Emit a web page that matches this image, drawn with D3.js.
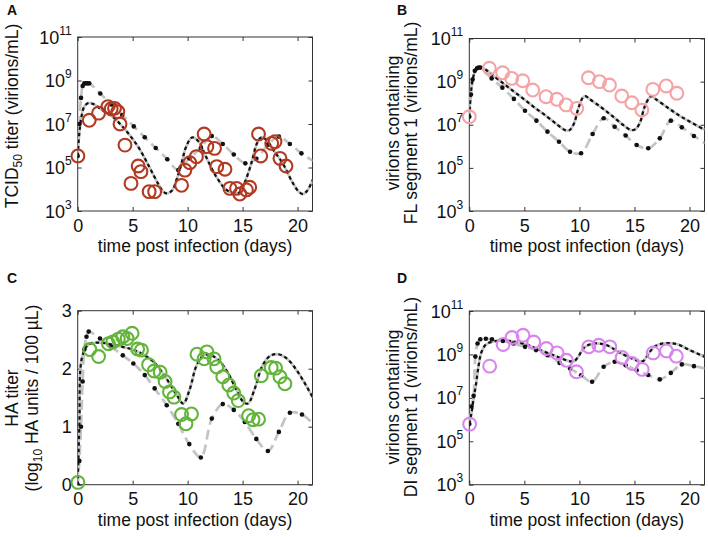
<!DOCTYPE html>
<html><head><meta charset="utf-8">
<script src="https://cdn.jsdelivr.net/npm/d3@7/dist/d3.min.js"></script>
<style>
body{margin:0;background:#fff;}
svg{display:block;font-family:"Liberation Sans",Arial,Helvetica,sans-serif;}
</style></head><body>
<svg id="c" width="708" height="537"></svg>
<script>
// ---------- tick labels ----------
const xTicks = [0, 5, 10, 15, 20];
const logTicks = [3, 5, 7, 9, 11];
const haTicks = [0, 1, 2, 3];

// ---------- Panel A: TCID50 titer (log10) ----------
const aObsT = [0.02,1.05,1.9,2.75,3.05,3.35,3.65,3.85,4.3,4.85,5.5,5.75,6.5,7.0,9.45,9.75,10.2,10.8,11.5,11.75,12.45,12.65,13.4,13.85,14.45,14.75,15.35,15.65,16.45,16.65,17.65,17.95,18.4,18.95];
const aObsV = [5.53,7.17,7.5,7.8,7.7,7.72,7.57,7.0,6.03,4.27,5.07,4.81,3.89,3.89,4.18,4.88,5.22,5.5,6.54,5.96,5.88,5.04,4.92,4.04,4.04,3.78,3.97,4.09,6.54,5.53,6.11,6.19,5.42,5.07];
const aFitT = [0,0.15,0.35,0.6,1.0,1.5,2.2,3.2,4.3,5.5,6.5,7.3,7.8,8.1,8.6,9.0,9.4,9.9,10.4,11.0,11.6,12.6,13.5,14.1,14.6,15.1,15.8,16.3,16.7,17.2,17.8,18.7,19.5,20.1,20.5,20.9,21.4];
const aFitV = [5.53,6.6,7.35,7.8,7.97,7.9,7.65,7.32,6.75,5.95,5.04,4.27,3.88,3.81,3.95,4.45,5.1,6.0,6.38,6.2,5.57,4.58,3.98,3.83,3.81,4.2,5.2,6.1,6.38,6.25,5.8,5.15,4.35,3.9,3.78,3.95,4.45];
const aDotT = [0,0.15,0.3,0.45,0.6,0.75,0.9,1.05,2.05,3.05,4.05,5.1,6.1,7.1,8.15,9.15,10.15,11.2,12.2,13.2,14.2,15.25,16.25,17.3,18.3,19.3,20.35];
const aDotV = [5.53,7.0,8.2,8.75,8.87,8.87,8.87,8.87,8.4,7.9,7.41,6.89,6.39,5.9,5.38,4.88,5.42,5.9,6.45,6.08,5.6,5.19,5.4,6.05,6.42,6.08,5.65];
const aEndT = 21.4, aEndV = 5.3;

// ---------- Panel B: FL segment 1 (log10) ----------
const bObsT = [0,1.82,3.03,3.85,4.85,5.76,6.97,7.95,8.79,9.76,10.82,11.82,12.73,13.85,14.76,15.67,16.67,17.88,18.85];
const bObsV = [7.37,9.62,9.41,9.15,9.04,8.61,8.3,8.18,7.92,7.76,9.18,9.0,8.84,8.33,8.02,7.68,8.64,8.8,8.46];
const bFitT = [0,0.15,0.35,0.6,1.0,1.5,2,3,4,5,6,7,8,8.7,9.1,9.5,9.9,10.3,10.55,10.9,12,13,14,14.7,15.1,15.5,15.9,16.3,16.55,16.9,18,19,20,21.4];
const bFitV = [7.37,8.5,9.2,9.55,9.67,9.55,9.35,8.95,8.56,8.17,7.77,7.4,7.0,6.75,6.75,7.05,7.75,8.25,8.33,8.2,7.8,7.4,6.98,6.75,6.8,7.1,7.8,8.22,8.33,8.2,7.8,7.45,7.15,6.76];
const bDotT = [0,0.15,0.3,0.5,0.7,0.85,1.0,2.03,3.0,4.05,5.06,6.1,7.1,8.15,9.15,10.15,11.2,12.2,13.2,14.2,15.2,16.25,17.3,18.3,19.3,20.4];
const bDotV = [7.37,8.4,9.1,9.5,9.62,9.65,9.65,9.15,8.72,8.2,7.65,7.19,6.68,6.21,5.75,5.68,6.57,7.3,6.91,6.5,6.06,5.91,6.37,7.19,6.88,6.48];
const bEndT = 21.4, bEndV = 6.14;

// ---------- Panel C: HA titer (log10 HA units / 100 uL) ----------
const cObsT = [0.02,1.1,1.9,2.8,3.2,3.7,4.1,4.5,4.95,5.45,5.8,6.45,6.95,7.5,7.95,8.35,8.75,9.45,9.85,10.35,10.85,11.5,11.75,12.4,12.65,13.2,13.75,14.2,14.6,15.55,15.95,16.45,16.7,17.6,18.0,18.4,18.85];
const cObsV = [0.04,2.33,2.21,2.43,2.46,2.51,2.55,2.52,2.61,2.34,2.32,2.07,1.96,1.94,1.78,1.6,1.51,1.21,1.05,1.22,2.25,2.17,2.29,2.17,2.03,1.86,1.72,1.58,1.45,1.19,1.12,1.13,1.88,2.02,2.01,1.86,1.74];
const cFitT = [0,0.15,0.4,1.0,2.0,3.0,4.0,5.0,6.0,7.0,8.0,9.0,9.6,10.2,10.8,11.4,12.0,12.8,13.6,14.4,15.1,15.5,16.1,16.8,17.5,18.2,19.0,20.0,21.4];
const cFitV = [0,1.0,2.2,2.42,2.45,2.42,2.38,2.33,2.24,2.1,1.85,1.55,1.4,1.65,2.05,2.22,2.24,2.15,1.95,1.65,1.42,1.4,1.65,2.05,2.22,2.25,2.18,1.95,1.5];
const cDotT = [0,0.15,0.3,0.45,0.6,0.8,1.0,2.03,3.05,4.1,5.06,6.1,7.0,8.1,9.15,10.15,11.2,12.2,13.2,14.2,15.2,16.25,17.3,18.3,19.3,20.4];
const cDotV = [0,0.41,1.0,1.78,2.33,2.55,2.64,2.52,2.38,2.23,2.09,1.89,1.66,1.37,1.05,0.7,0.47,1.14,1.39,1.29,1.08,0.79,0.58,0.91,1.24,1.21];
const cEndT = 21.4, cEndV = 1.05;

// ---------- Panel D: DI segment 1 (log10) ----------
const dObsT = [0.03,1.85,3.07,3.88,4.88,5.85,7.0,7.97,8.82,9.73,10.85,11.76,12.76,13.88,14.79,15.7,16.7,17.9,18.8];
const dObsV = [5.79,8.46,9.46,9.78,9.88,9.57,9.27,9.07,8.73,8.2,9.35,9.42,9.35,8.86,8.58,8.31,9.07,9.16,8.92];
const dFitT = [0,0.2,0.4,0.6,0.85,1.1,1.5,2.2,3.2,4.2,5.2,6.2,7.2,8.2,9.0,9.5,9.9,10.4,11.0,11.8,12.6,13.6,14.6,15.4,15.8,16.3,16.8,17.5,18.2,19.0,20.0,21.4];
const dFitV = [5.8,6.3,7.0,7.6,8.5,9.1,9.45,9.6,9.63,9.58,9.45,9.25,9.05,8.85,8.7,8.68,8.9,9.3,9.47,9.5,9.4,9.1,8.85,8.7,8.7,9.05,9.35,9.5,9.52,9.45,9.2,8.88];
const dDotT = [0,0.2,0.39,0.55,0.75,1.0,1.5,2.06,3.05,4.0,5.06,6.06,7.1,8.2,9.15,10.15,11.15,12.2,13.2,14.2,15.2,16.25,17.3,18.3,19.3,20.4];
const dDotV = [5.8,6.6,7.1,8.9,9.5,9.7,9.72,9.7,9.62,9.5,9.35,9.2,8.96,8.61,8.35,8.04,7.74,8.43,8.66,8.5,8.27,8.05,7.85,8.15,8.54,8.46];
const dEndT = 21.4, dEndV = 8.35;

// ---------- drawing ----------
const svg = d3.select("#c");
const FONT = 17.5;
const TICKF = 18;

const panels = [
  {id:"A", letter:[7,15], box:{l:77.7,r:312.5,t:37,b:211}, log:true, color:"#b23a22",
   obsT:aObsT, obsV:aObsV, fitT:aFitT, fitV:aFitV, dotT:aDotT, dotV:aDotV, endT:aEndT, endV:aEndV,
   ylab:[{x:18, parts:[["TCID",0],["50",1],[" titer (virions/mL)",0]]}], ylabY:116},
  {id:"B", letter:[397,15], box:{l:469.3,r:704.5,t:38.5,b:211}, log:true, color:"#f5a3a6",
   obsT:bObsT, obsV:bObsV, fitT:bFitT, fitV:bFitV, dotT:bDotT, dotV:bDotV, endT:bEndT, endV:bEndV,
   ylab:[{x:399, parts:[["virions containing",0]]},{x:417, parts:[["FL segment 1  (virions/mL)",0]]}], ylabY:123},
  {id:"C", letter:[7,283], box:{l:77.7,r:312.5,t:310.7,b:484.7}, log:false, color:"#62b43a",
   obsT:cObsT, obsV:cObsV, fitT:cFitT, fitV:cFitV, dotT:cDotT, dotV:cDotV, endT:cEndT, endV:cEndV,
   ylab:[{x:18, parts:[["HA titer",0]]},{x:38, parts:[["(log",0],["10",1],[" HA units / 100 \u00b5L)",0]]}], ylabY:398},
  {id:"D", letter:[397,283], box:{l:469.3,r:704.5,t:311,b:484.7}, log:true, color:"#d985ef",
   obsT:dObsT, obsV:dObsV, fitT:dFitT, fitV:dFitV, dotT:dDotT, dotV:dDotV, endT:dEndT, endV:dEndV,
   ylab:[{x:399, parts:[["virions containing",0]]},{x:417, parts:[["DI segment 1  (virions/mL)",0]]}], ylabY:397}
];

panels.forEach((p, i) => {
  const B = p.box;
  const x = d3.scaleLinear().domain([0, 21.36]).range([B.l, B.r]);
  const y = p.log ? d3.scaleLinear().domain([3, 11]).range([B.b, B.t])
                  : d3.scaleLinear().domain([0, 3]).range([B.b, B.t]);
  const g = svg.append("g");

  // panel letter
  g.append("text").attr("x", p.letter[0]).attr("y", p.letter[1])
    .attr("font-weight", "bold").attr("font-size", 14).attr("fill", "#111").text(p.id);

  // clip
  const cid = "clip" + i;
  svg.append("clipPath").attr("id", cid).append("rect")
    .attr("x", B.l).attr("y", B.t).attr("width", B.r - B.l).attr("height", B.b - B.t);

  // axes (MATLAB-style inward ticks on all sides)
  const yt = p.log ? logTicks : haTicks;
  const ax = g.append("g");
  const bottom = ax.append("g").attr("transform", `translate(0,${B.b})`)
    .call(d3.axisBottom(x).tickValues(xTicks).tickSize(-4).tickPadding(8).tickFormat(d3.format("d")));
  ax.append("g").attr("transform", `translate(0,${B.t})`)
    .call(d3.axisTop(x).tickValues(xTicks).tickSize(-4).tickFormat(""));
  ax.append("g").attr("transform", `translate(${B.l},0)`)
    .call(d3.axisLeft(y).tickValues(yt).tickSize(-4).tickFormat(""));
  ax.append("g").attr("transform", `translate(${B.r},0)`)
    .call(d3.axisRight(y).tickValues(yt).tickSize(-4).tickFormat(""));
  ax.selectAll(".domain").remove();
  ax.selectAll(".tick line").attr("stroke", "#333").attr("stroke-width", 1);
  bottom.selectAll(".tick text").attr("font-size", TICKF).attr("fill", "#111")
    .attr("font-family", "Liberation Sans, Arial, sans-serif");
  // y tick labels
  yt.forEach(v => {
    const t = g.append("text").attr("x", B.l - 6).attr("y", y(v) + 6.5)
      .attr("text-anchor", "end").attr("font-size", TICKF).attr("fill", "#111");
    if (p.log) {
      t.append("tspan").text("10");
      t.append("tspan").attr("dy", -9).attr("font-size", 12).text(String(v));
    } else {
      t.text(String(v));
    }
  });
  g.append("rect").attr("x", B.l).attr("y", B.t).attr("width", B.r - B.l).attr("height", B.b - B.t)
    .attr("fill", "none").attr("stroke", "#333").attr("stroke-width", 1);

  // x label
  g.append("text").attr("x", (B.l + B.r) / 2).attr("y", B.b + 41).attr("text-anchor", "middle")
    .attr("font-size", FONT).attr("fill", "#111").text("time post infection (days)");
  // y label
  p.ylab.forEach(l => {
    const t = g.append("text").attr("transform", `translate(${l.x},${p.ylabY}) rotate(-90)`)
      .attr("text-anchor", "middle").attr("font-size", FONT).attr("fill", "#111");
    l.parts.forEach(([s, sub]) => {
      const ts = t.append("tspan").text(s);
      if (sub) ts.attr("font-size", 12).attr("dy", 4);
      else if (t.selectAll("tspan").size() > 1) ts.attr("dy", -4);
    });
  });

  // model curves
  const plot = g.append("g").attr("clip-path", `url(#${cid})`);
  const line = d3.line().x(d => x(d[0])).y(d => y(d[1])).curve(d3.curveCatmullRom.alpha(0.5));
  const fit = p.fitT.map((t, k) => [t, p.fitV[k]]);
  const dots = p.dotT.map((t, k) => [t, p.dotV[k]]);
  const dotLine = dots.concat([[p.endT, p.endV]]);

  plot.append("path").attr("d", line(dotLine)).attr("fill", "none")
    .attr("stroke", "#c4c4c4").attr("stroke-width", 2.7).attr("stroke-dasharray", "10,5");
  plot.append("path").attr("d", line(fit)).attr("fill", "none")
    .attr("stroke", "#c4c4c4").attr("stroke-width", 2.7);
  plot.append("path").attr("d", line(fit)).attr("fill", "none")
    .attr("stroke", "#111").attr("stroke-width", 2.2).attr("stroke-dasharray", "3.5,3");
  plot.selectAll("circle.dot").data(dots).enter().append("circle").attr("class", "dot")
    .attr("cx", d => x(d[0])).attr("cy", d => y(d[1])).attr("r", 2.3).attr("fill", "#111");

  // observations
  g.selectAll("circle.obs").data(p.obsT.map((t, k) => [t, p.obsV[k]])).enter().append("circle")
    .attr("class", "obs").attr("cx", d => x(d[0])).attr("cy", d => y(d[1])).attr("r", 6.4)
    .attr("fill", "none").attr("stroke", p.color).attr("stroke-width", 2.1);
});
</script>
</body></html>
